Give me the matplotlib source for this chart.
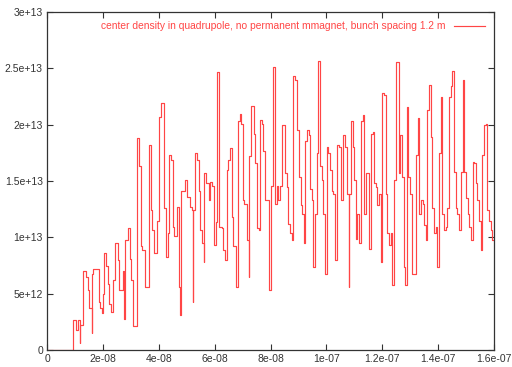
import matplotlib
matplotlib.use("Agg")
import matplotlib.pyplot as plt
import numpy as np

plt.rcParams["font.family"] = ["Liberation Sans", "DejaVu Sans"]

# step start times (ns) and centre density (units of 1e13 m^-3)
time_ns = [
    0.0, 9.4, 10.4, 11.2, 11.8, 11.9, 12.8, 13.8, 14.6, 15.0, 15.9, 16.0,
    16.6, 18.4, 19.0, 19.6, 19.9, 20.5, 21.0, 21.7, 22.3, 22.9, 23.5, 24.3,
    25.3, 25.9, 27.1, 27.7, 28.0, 28.8, 29.7, 30.1, 30.9, 32.1, 32.9, 33.5,
    34.1, 35.1, 36.3, 37.1, 37.7, 38.3, 39.5, 40.1, 40.7, 41.9, 42.6, 43.2,
    43.8, 44.4, 45.0, 45.5, 46.4, 47.1, 47.6,
    48.0, 49.4, 50.0, 51.0, 51.8, 52.1, 52.4, 53.0, 53.6, 54.2, 54.8, 55.4,
    56.0, 56.3, 56.9, 57.8, 58.4, 59.0, 59.6, 60.4, 60.7, 61.7, 62.5, 63.1,
    63.7, 64.3, 64.9, 65.5, 66.1, 66.7, 67.7, 68.3, 68.9, 69.5, 70.1, 70.6,
    71.5, 72.1, 72.4, 73.0, 73.9, 74.5, 75.1, 75.7, 76.2, 76.8, 77.4, 78.0,
    78.9, 79.6, 80.1, 80.8, 81.6, 82.2, 82.8, 83.4, 84.0, 84.6, 85.2, 85.8,
    86.4, 87.0, 87.6, 88.2, 88.8, 89.6, 90.2, 90.8, 91.4, 92.0, 92.4, 93.0,
    93.6, 94.2, 94.8, 95.3, 95.9, 96.5, 96.9, 97.7, 98.3, 98.9, 99.5, 100.1,
    100.7,
    101.3, 101.9, 102.5, 103.1, 103.9, 104.6, 105.1, 105.8, 106.7, 107.3,
    107.9, 108.1, 108.7, 109.4, 109.9, 110.5, 111.1, 111.7, 112.3, 112.9,
    113.5, 114.1, 115.3, 115.9, 116.5, 117.1, 117.7, 118.2, 118.8, 119.4,
    120.0, 120.6, 121.2, 121.8, 122.4, 123.0, 123.6, 124.0, 124.9, 125.8,
    126.4, 127.0, 127.6, 128.2, 128.7, 129.3, 129.9, 130.5, 132.0, 132.6,
    133.2, 133.8, 134.4, 134.9, 135.5, 136.1, 136.7, 137.3, 137.9, 138.5,
    139.1, 139.7, 140.2, 140.9, 141.5, 142.1, 142.7, 143.3, 143.9, 144.5,
    145.1, 145.7, 146.3, 146.9, 147.5, 148.1, 148.7, 149.3, 149.9, 150.5,
    151.1, 151.7, 152.3, 152.9, 153.4, 154.0, 154.6, 155.2, 155.8, 156.4,
    157.0, 157.6, 158.2, 158.8, 159.4, 160.0,
]
density_e13 = [
    0.0, 0.27, 0.18, 0.27, 0.06, 0.22, 0.70, 0.65, 0.53, 0.37, 0.15, 0.68,
    0.72, 0.43, 0.37, 0.33, 0.50, 0.86, 0.75, 0.59, 0.41, 0.34, 0.62, 0.95,
    0.80, 0.53, 0.70, 0.28, 0.98, 1.08, 0.81, 0.62, 0.21, 1.88, 1.63, 0.92,
    0.89, 0.56, 1.82, 1.24, 1.07, 0.86, 1.15, 2.07, 2.19, 1.26, 0.83, 1.04,
    1.73, 1.69, 1.09, 1.01, 1.27, 0.56, 0.31,
    1.41, 1.51, 1.36, 1.27, 1.24, 0.43, 1.24, 1.75, 1.69, 1.41, 1.07, 0.95,
    0.78, 1.57, 1.48, 1.33, 1.49, 1.46, 0.93, 1.14, 2.47, 1.09, 1.08, 0.89,
    0.80, 1.60, 1.69, 1.79, 1.18, 0.92, 0.56, 2.03, 2.10, 2.01, 1.33, 1.30,
    0.98, 0.65, 1.72, 2.17, 1.92, 1.66, 1.08, 1.07, 2.04, 2.01, 1.77, 1.33,
    1.33, 0.53, 1.46, 2.51, 1.30, 1.46, 1.33, 1.46, 2.00, 2.00, 1.57, 1.45,
    1.12, 1.04, 0.98, 2.43, 2.40, 1.95, 1.54, 1.29, 1.21, 0.95, 1.86, 1.95,
    1.91, 1.43, 1.33, 0.74, 1.21, 1.75, 2.57, 1.63, 1.51, 1.21, 0.68, 1.80,
    1.75,
    1.60, 1.41, 1.39, 0.80, 1.82, 1.80, 1.33, 1.91, 1.80, 1.39,
    0.56, 1.39, 2.03, 1.80, 1.51, 0.99, 1.21, 0.95, 2.03, 2.09,
    1.21, 1.57, 0.90, 1.92, 1.94, 1.48, 1.45, 1.29, 1.39, 0.78,
    2.28, 2.26, 1.39, 1.04, 0.93, 1.04, 0.58, 1.51, 2.56, 1.57,
    1.91, 1.54, 0.74, 0.58, 2.16, 1.54, 1.39, 0.68, 1.73, 2.06,
    1.21, 1.33, 1.30, 1.11, 0.98, 2.13, 2.35, 1.89, 1.26, 1.04,
    1.09, 0.74, 1.75, 2.25, 1.21, 1.07, 1.09, 1.26, 2.25, 2.34,
    2.48, 1.58, 1.26, 1.21, 1.07, 1.58, 2.40, 1.58, 1.35, 1.21,
    1.09, 0.98, 1.67, 1.66, 1.48, 1.33, 1.15, 0.89, 1.73, 2.00,
    2.01, 1.24, 1.15, 1.07, 0.98, 0.98,
]

x_ticks = [0, 2e-8, 4e-8, 6e-8, 8e-8, 1e-7, 1.2e-7, 1.4e-7, 1.6e-7]
x_labels = ["0", "2e-08", "4e-08", "6e-08", "8e-08", "1e-07", "1.2e-07", "1.4e-07", "1.6e-07"]
y_ticks = [0, 5e12, 1e13, 1.5e13, 2e13, 2.5e13, 3e13]
y_labels = ["0", "5e+12", "1e+13", "1.5e+13", "2e+13", "2.5e+13", "3e+13"]

label = "center density in quadrupole, no permanent mmagnet, bunch spacing 1.2 m"
RED = "#ff4545"

t = np.array(time_ns) * 1e-9
d = np.array(density_e13) * 1e13

fig = plt.figure(figsize=(5.12, 3.67), dpi=100)
ax = fig.add_axes([0.092, 0.046, 0.873, 0.921])

ax.step(t, d, where="post", color=RED, linewidth=0.85, label=label)

ax.set_xlim(0, 1.6e-7)
ax.set_ylim(0, 3e13)
ax.set_xticks(x_ticks)
ax.set_xticklabels(x_labels)
ax.set_yticks(y_ticks)
ax.set_yticklabels(y_labels)
ax.tick_params(direction="in", length=4, width=0.8, top=True, right=True,
               labelsize=7.5, colors="#333333", pad=3)
for s in ax.spines.values():
    s.set_color("#333333")
    s.set_linewidth(0.9)

leg = ax.legend(loc="upper right", frameon=False, fontsize=7.4,
                markerfirst=False, handlelength=3.0, borderaxespad=0.5,
                handletextpad=0.8)
for txt in leg.get_texts():
    txt.set_color(RED)

fig.savefig("out.png", dpi=100)
